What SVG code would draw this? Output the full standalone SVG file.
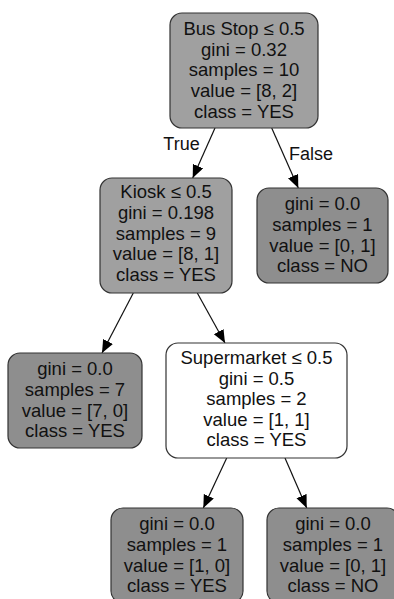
<svg xmlns="http://www.w3.org/2000/svg" width="394" height="599" viewBox="0 0 394 599">
<defs>
<style>
.n{stroke:#333;stroke-width:1.2}
.split{fill:#a0a0a0}
.leaf{fill:#8e8e8e}
.white{fill:#ffffff}
text{font-family:"Liberation Sans",Arial,sans-serif;font-size:18.5px;fill:#111;text-anchor:middle}
.el{font-size:18px}
.e{stroke:#111;stroke-width:1.2;fill:none;marker-end:url(#ah)}
</style>
<marker id="ah" markerUnits="userSpaceOnUse" markerWidth="14" markerHeight="12" refX="13" refY="5.5" orient="auto">
<path d="M0,0 L13,5.5 L0,11 Z" fill="#000"/>
</marker>
</defs>
<rect width="394" height="599" fill="#fff"/>
<g id="connectors">
<line class="e" x1="215" y1="128" x2="192.7" y2="178"/>
<line class="e" x1="271.7" y1="128" x2="298.3" y2="188"/>
<line class="e" x1="133.3" y1="293" x2="102" y2="353"/>
<line class="e" x1="197.3" y1="293" x2="225" y2="343"/>
<line class="e" x1="226.7" y1="458" x2="203.3" y2="508"/>
<line class="e" x1="285" y1="458" x2="306.7" y2="508"/>
<text class="el" x="181.5" y="149.5">True</text>
<text class="el" x="311" y="160">False</text>
</g>
<g id="node0">
<rect class="n split" x="170" y="13" width="148" height="115" rx="12"/>
<text x="244" y="35">Bus Stop ≤ 0.5</text>
<text x="244" y="55.7">gini = 0.32</text>
<text x="244" y="76.3">samples = 10</text>
<text x="244" y="97">value = [8, 2]</text>
<text x="244" y="117.5">class = YES</text>
</g>
<g id="node1">
<rect class="n split" x="100" y="178" width="132" height="115" rx="12"/>
<text x="166" y="198.3">Kiosk ≤ 0.5</text>
<text x="166" y="219">gini = 0.198</text>
<text x="166" y="239.5">samples = 9</text>
<text x="166" y="260.2">value = [8, 1]</text>
<text x="166" y="280.7">class = YES</text>
</g>
<g id="node2">
<rect class="n leaf" x="257" y="188" width="131" height="95" rx="12"/>
<text x="322.5" y="210.4">gini = 0.0</text>
<text x="322.5" y="231">samples = 1</text>
<text x="322.5" y="251.6">value = [0, 1]</text>
<text x="322.5" y="272.2">class = NO</text>
</g>
<g id="node3">
<rect class="n leaf" x="8" y="353" width="134" height="95" rx="12"/>
<text x="75" y="375.4">gini = 0.0</text>
<text x="75" y="396">samples = 7</text>
<text x="75" y="416.6">value = [7, 0]</text>
<text x="75" y="437.2">class = YES</text>
</g>
<g id="node4">
<rect class="n white" x="166" y="343" width="181" height="115" rx="12"/>
<text x="256.5" y="364">Supermarket ≤ 0.5</text>
<text x="256.5" y="384.6">gini = 0.5</text>
<text x="256.5" y="405.2">samples = 2</text>
<text x="256.5" y="425.8">value = [1, 1]</text>
<text x="256.5" y="446.4">class = YES</text>
</g>
<g id="node5">
<rect class="n leaf" x="111" y="508" width="132" height="95" rx="12"/>
<text x="177" y="530.4">gini = 0.0</text>
<text x="177" y="551">samples = 1</text>
<text x="177" y="571.6">value = [1, 0]</text>
<text x="177" y="592.2">class = YES</text>
</g>
<g id="node6">
<rect class="n leaf" x="267" y="508" width="132" height="95" rx="12"/>
<text x="333" y="530.4">gini = 0.0</text>
<text x="333" y="551">samples = 1</text>
<text x="333" y="571.6">value = [0, 1]</text>
<text x="333" y="592.2">class = NO</text>
</g>
</svg>
